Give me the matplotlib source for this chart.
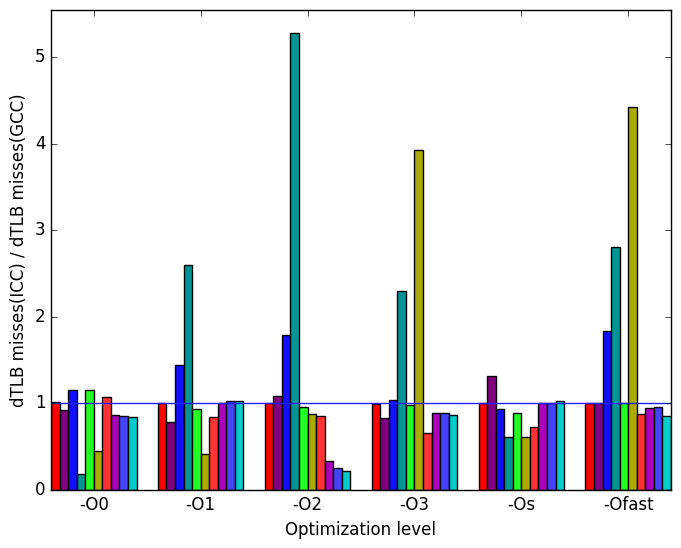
#!/usr/bin/env python3
import numpy as np
import matplotlib as mpl
mpl.use('Agg')
from matplotlib import pyplot as plt

levels = ['-O0', '-O1', '-O2', '-O3', '-Os', '-Ofast']

# ratio ICC/GCC per benchmark, one list per benchmark (10 benchmarks)
bench_ratios = [
    [1.02, 1.01, 1.00, 0.99, 1.00, 1.01],
    [0.92, 0.78, 1.09, 0.83, 1.32, 1.01],
    [1.16, 1.44, 1.79, 1.045, 0.93, 1.84],
    [0.18, 2.60, 5.28, 2.30, 0.61, 2.81],
    [1.16, 0.94, 0.96, 0.98, 0.895, 1.00],
    [0.45, 0.42, 0.88, 3.93, 0.61, 4.42],
    [1.07, 0.84, 0.86, 0.66, 0.73, 0.88],
    [0.87, 1.01, 0.33, 0.895, 1.00, 0.95],
    [0.85, 1.03, 0.26, 0.895, 1.01, 0.96],
    [0.84, 1.03, 0.215, 0.87, 1.03, 0.86],
]

colors = ['#ff0000', '#800080', '#1010ff', '#009494', '#22ff22',
          '#aaaa00', '#ff3333', '#aa00bb', '#4444ff', '#00cccc']


def plot_ratios():
    plt.style.use('classic')
    fig = plt.figure(figsize=(6.81, 5.48), dpi=100, facecolor='white')
    ax = fig.add_axes([0.0749, 0.1058, 0.9104, 0.876])

    width = 0.08
    x = np.arange(len(levels))
    for j, vals in enumerate(bench_ratios):
        ax.bar(x + j * width, vals, width, align='edge',
               color=colors[j], edgecolor='black', linewidth=1)

    ax.axhline(1.0, color='#2020ff', linewidth=1)

    ax.set_xlim(0, len(levels) - 1 + 10 * width)
    ax.set_ylim(0, max(max(v) for v in bench_ratios) * 1.05)
    ax.set_xticks(x + 5 * width)
    ax.set_xticklabels(levels)
    ax.set_yticks(np.arange(0, 6))
    ax.set_xlabel('Optimization level', fontsize=12)
    ax.set_ylabel('dTLB misses(ICC) / dTLB misses(GCC)', fontsize=12)

    fig.savefig('out.png', dpi=100, facecolor='white')


if __name__ == '__main__':
    plot_ratios()
